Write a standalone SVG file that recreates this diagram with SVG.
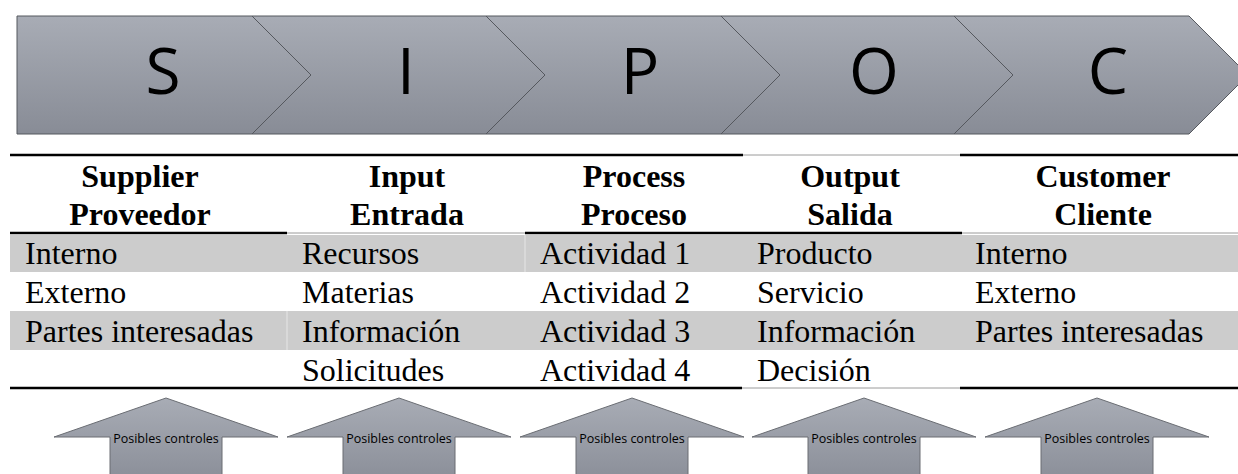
<svg xmlns="http://www.w3.org/2000/svg" width="1238" height="474" viewBox="0 0 1238 474">
<defs>
<linearGradient id="g" x1="0" y1="0" x2="0" y2="1">
<stop offset="0" stop-color="#A8ACB5"/>
<stop offset="1" stop-color="#888C96"/>
</linearGradient>
<linearGradient id="ga" x1="0" y1="0" x2="0" y2="1">
<stop offset="0" stop-color="#A8ACB5"/>
<stop offset="1" stop-color="#8C909A"/>
</linearGradient>
</defs>
<style>
.chev{fill:url(#g);stroke:#55585E;stroke-width:1}
.big{font-family:"Open Sans","Liberation Sans",sans-serif;font-size:64px;fill:#000;text-anchor:middle}
.hd{font-family:"Liberation Serif","Times New Roman",serif;font-size:32px;font-weight:bold;fill:#000;text-anchor:middle}
.cell{font-family:"Liberation Serif","Times New Roman",serif;font-size:32px;fill:#000}
.band{fill:#CCCCCC}
.bl{stroke:#000;stroke-width:2.5}
.gl{stroke:#9A9A9A;stroke-width:1}
.arr{fill:url(#ga);stroke:#6A6D73;stroke-width:1}
.ac{font-family:"Open Sans","Liberation Sans",sans-serif;font-size:12.5px;fill:#000;text-anchor:middle}
</style>
<rect width="1238" height="474" fill="#fff"/>
<g id="chevron-S"><path class="chev" d="M17,16 H252 L311,75 L252,134 H17 Z"/><text class="big" x="163" y="94">S</text></g>
<g id="chevron-I"><path class="chev" d="M252,16 H486 L545,75 L486,134 H252 L311,75 Z"/><text class="big" x="406" y="94">I</text></g>
<g id="chevron-P"><path class="chev" d="M486,16 H721 L780,75 L721,134 H486 L545,75 Z"/><text class="big" x="640" y="94">P</text></g>
<g id="chevron-O"><path class="chev" d="M721,16 H954 L1013,75 L954,134 H721 L780,75 Z"/><text class="big" x="874" y="94">O</text></g>
<g id="chevron-C"><path class="chev" d="M954,16 H1189 L1248,75 L1189,134 H954 L1013,75 Z"/><text class="big" x="1108" y="94">C</text></g>
<g id="table">
<rect class="band" x="10" y="235" width="1228" height="37"/>
<rect class="band" x="10" y="311" width="1228" height="39"/>
<g stroke="#E6E6E6" stroke-width="1">
<line x1="287" y1="311" x2="287" y2="350"/>
<line x1="525" y1="235" x2="525" y2="272"/>
</g>
<line class="bl" x1="10" y1="155" x2="743" y2="155"/>
<line class="gl" x1="743" y1="155" x2="960" y2="155"/>
<line class="bl" x1="960" y1="155" x2="1238" y2="155"/>
<line class="bl" x1="10" y1="233" x2="287" y2="233"/>
<line class="gl" x1="287" y1="233" x2="525" y2="233"/>
<line class="bl" x1="525" y1="233" x2="962" y2="233"/>
<line class="gl" x1="962" y1="233" x2="1238" y2="233"/>
<line class="bl" x1="10" y1="388" x2="742" y2="388"/>
<line class="gl" x1="742" y1="388" x2="960" y2="388"/>
<line class="bl" x1="960" y1="388" x2="1238" y2="388"/>
<text class="hd" x="140" y="187">Supplier</text><text class="hd" x="140" y="225">Proveedor</text>
<text class="hd" x="407" y="187">Input</text><text class="hd" x="407" y="225">Entrada</text>
<text class="hd" x="634" y="187">Process</text><text class="hd" x="634" y="225">Proceso</text>
<text class="hd" x="850" y="187">Output</text><text class="hd" x="850" y="225">Salida</text>
<text class="hd" x="1103" y="187">Customer</text><text class="hd" x="1103" y="225">Cliente</text>
<text class="cell" x="25" y="264">Interno</text>
<text class="cell" x="25" y="303">Externo</text>
<text class="cell" x="25" y="342">Partes interesadas</text>
<text class="cell" x="302" y="264">Recursos</text>
<text class="cell" x="302" y="303">Materias</text>
<text class="cell" x="302" y="342">Información</text>
<text class="cell" x="302" y="381">Solicitudes</text>
<text class="cell" x="540" y="264">Actividad 1</text>
<text class="cell" x="540" y="303">Actividad 2</text>
<text class="cell" x="540" y="342">Actividad 3</text>
<text class="cell" x="540" y="381">Actividad 4</text>
<text class="cell" x="757" y="264">Producto</text>
<text class="cell" x="757" y="303">Servicio</text>
<text class="cell" x="757" y="342">Información</text>
<text class="cell" x="757" y="381">Decisión</text>
<text class="cell" x="975" y="264">Interno</text>
<text class="cell" x="975" y="303">Externo</text>
<text class="cell" x="975" y="342">Partes interesadas</text>
</g>
<g id="arrow-1"><path class="arr" d="M166,398 L278,437 H222 V476 H110 V437 H54 Z"/><text class="ac" x="166" y="443">Posibles controles</text></g>
<g id="arrow-2"><path class="arr" d="M399,398 L511,437 H455 V476 H343 V437 H287 Z"/><text class="ac" x="399" y="443">Posibles controles</text></g>
<g id="arrow-3"><path class="arr" d="M632,398 L744,437 H688 V476 H576 V437 H520 Z"/><text class="ac" x="632" y="443">Posibles controles</text></g>
<g id="arrow-4"><path class="arr" d="M864,398 L976,437 H920 V476 H808 V437 H752 Z"/><text class="ac" x="864" y="443">Posibles controles</text></g>
<g id="arrow-5"><path class="arr" d="M1097,398 L1209,437 H1153 V476 H1041 V437 H985 Z"/><text class="ac" x="1097" y="443">Posibles controles</text></g>
</svg>
